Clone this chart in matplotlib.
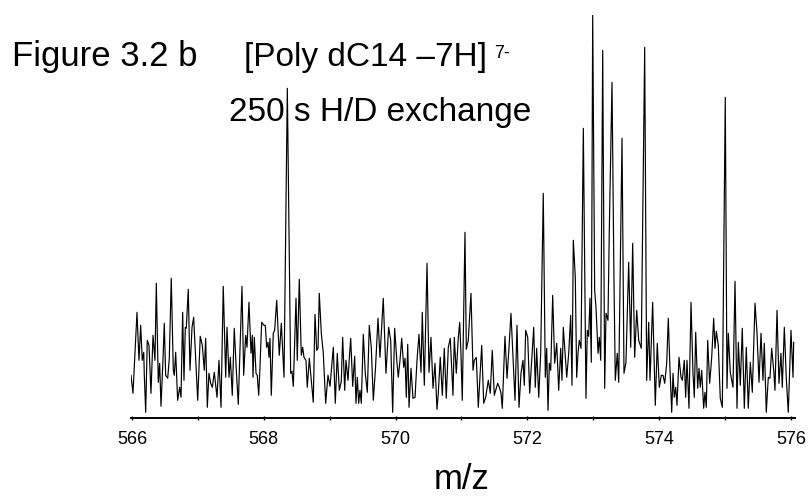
import matplotlib
matplotlib.use("Agg")
import matplotlib.pyplot as plt
from matplotlib.ticker import MultipleLocator, FuncFormatter

plt.rcParams['font.family'] = ['Liberation Sans', 'DejaVu Sans']

# --- spectrum (m/z, relative intensity) ---
mz = [
    565.985, 566.015, 566.076, 566.106, 566.132, 566.156, 566.178, 566.187, 566.208, 566.232,
    566.258, 566.288, 566.319, 566.349, 566.369, 566.399, 566.420, 566.440, 566.470, 566.490,
    566.511, 566.542, 566.566, 566.596, 566.627, 566.642, 566.663, 566.693, 566.724, 566.744,
    566.769, 566.789, 566.809, 566.824, 566.854, 566.880, 566.911, 566.936, 566.967, 566.997,
    567.036, 567.067, 567.097, 567.118, 567.143, 567.168, 567.194, 567.219, 567.249, 567.290,
    567.320, 567.351, 567.385, 567.422, 567.442, 567.472, 567.492, 567.522, 567.552, 567.583,
    567.613, 567.669, 567.695, 567.725, 567.745, 567.775, 567.806, 567.826, 567.836, 567.856,
    567.882, 567.901, 567.923, 567.942, 567.968, 568.003, 568.023, 568.044, 568.064, 568.079,
    568.094, 568.114, 568.144, 568.165, 568.196, 568.235, 568.266, 568.307, 568.357, 568.408,
    568.428, 568.448, 568.489, 568.508, 568.539, 568.569, 568.590, 568.610, 568.640, 568.660,
    568.691, 568.727, 568.751, 568.777, 568.803, 568.823, 568.842, 568.873, 568.903, 568.939,
    568.974, 569.005, 569.055, 569.085, 569.115, 569.146, 569.176, 569.197, 569.228, 569.247,
    569.278, 569.297, 569.319, 569.349, 569.379, 569.399, 569.419, 569.440, 569.460, 569.480,
    569.510, 569.540, 569.571, 569.601, 569.631, 569.662, 569.695, 569.733, 569.763, 569.813,
    569.854, 569.895, 569.926, 569.956, 569.986, 570.017, 570.041, 570.067, 570.093, 570.123,
    570.143, 570.163, 570.184, 570.204, 570.234, 570.264, 570.295, 570.325, 570.355, 570.386,
    570.405, 570.436, 570.477, 570.507, 570.537, 570.568, 570.598, 570.628, 570.648, 570.678,
    570.709, 570.739, 570.769, 570.800, 570.830, 570.851, 570.871, 570.891, 570.921, 570.952,
    570.973, 570.992, 571.012, 571.053, 571.073, 571.103, 571.144, 571.175, 571.194, 571.225,
    571.255, 571.307, 571.337, 571.367, 571.407, 571.437, 571.467, 571.498, 571.519, 571.549,
    571.580, 571.600, 571.619, 571.660, 571.691, 571.721, 571.751, 571.782, 571.812, 571.842,
    571.873, 571.903, 571.933, 571.953, 571.974, 572.005, 572.035, 572.065, 572.096, 572.120,
    572.141, 572.172, 572.202, 572.241, 572.272, 572.293, 572.313, 572.333, 572.354, 572.384,
    572.414, 572.445, 572.475, 572.506, 572.525, 572.545, 572.566, 572.597, 572.627, 572.657,
    572.677, 572.697, 572.727, 572.748, 572.768, 572.788, 572.814, 572.849, 572.889, 572.909,
    572.930, 572.950, 572.970, 572.991, 573.021, 573.041, 573.072, 573.091, 573.113, 573.143,
    573.173, 573.193, 573.223, 573.243, 573.284, 573.314, 573.334, 573.364, 573.386, 573.436,
    573.466, 573.496, 573.537, 573.568, 573.598, 573.628, 573.659, 573.689, 573.728, 573.780,
    573.810, 573.841, 573.861, 573.901, 573.941, 573.971, 574.002, 574.032, 574.058, 574.084,
    574.114, 574.138, 574.160, 574.190, 574.210, 574.229, 574.251, 574.270, 574.301, 574.331,
    574.351, 574.381, 574.402, 574.422, 574.452, 574.483, 574.513, 574.533, 574.554, 574.584,
    574.604, 574.624, 574.645, 574.675, 574.695, 574.715, 574.736, 574.766, 574.797, 574.827,
    574.847, 574.867, 574.897, 574.927, 574.958, 575.003, 575.029, 575.049, 575.079, 575.120,
    575.151, 575.181, 575.201, 575.231, 575.261, 575.292, 575.322, 575.352, 575.383, 575.413,
    575.454, 575.484, 575.515, 575.545, 575.575, 575.595, 575.625, 575.656, 575.681, 575.707,
    575.738, 575.757, 575.788, 575.818, 575.848, 575.868, 575.899, 575.929, 575.959, 576.000,
    576.031, 576.041,
]

intensity = [
    43, 25, 106, 58, 93, 58, 66, 43, 6, 78,
    73, 25, 83, 58, 135, 36, 55, 12, 58, 95,
    43, 40, 60, 140, 48, 43, 66, 18, 31, 21,
    106, 38, 91, 90, 129, 48, 91, 101, 58, 18,
    82, 73, 48, 80, 11, 45, 35, 31, 46, 21,
    58, 11, 132, 41, 91, 41, 61, 23, 90, 48,
    14, 132, 43, 83, 71, 116, 65, 83, 41, 81,
    45, 43, 23, 51, 96, 93, 93, 71, 76, 61,
    80, 23, 85, 88, 118, 63, 95, 41, 330, 45,
    47, 32, 120, 58, 139, 63, 71, 61, 58, 31,
    60, 34, 16, 104, 68, 70, 125, 85, 65, 15,
    43, 32, 71, 15, 65, 28, 37, 81, 28, 58,
    38, 59, 80, 32, 62, 15, 41, 15, 28, 15,
    84, 45, 26, 93, 71, 18, 50, 100, 61, 120,
    45, 91, 78, 6, 90, 59, 41, 58, 80, 51,
    60, 21, 74, 11, 50, 20, 21, 58, 84, 46,
    106, 33, 155, 46, 81, 30, 55, 9, 25, 61,
    23, 70, 20, 71, 80, 51, 23, 81, 45, 81,
    96, 65, 18, 186, 69, 78, 125, 48, 58, 61,
    11, 73, 15, 21, 38, 25, 68, 23, 28, 35,
    30, 25, 10, 82, 40, 71, 105, 60, 18, 93,
    11, 45, 58, 33, 88, 81, 25, 58, 91, 31,
    70, 21, 65, 225, 41, 70, 8, 55, 48, 123,
    55, 75, 28, 70, 38, 91, 71, 41, 65, 103,
    33, 178, 141, 41, 65, 78, 70, 290, 20, 88,
    82, 120, 56, 403, 128, 111, 65, 81, 58, 368,
    30, 105, 98, 188, 336, 138, 38, 65, 36, 280,
    45, 56, 156, 71, 175, 61, 108, 78, 70, 371,
    38, 96, 38, 116, 13, 75, 31, 43, 43, 35,
    55, 100, 56, 6, 45, 21, 31, 13, 61, 41,
    38, 58, 21, 58, 10, 116, 45, 21, 86, 30,
    50, 31, 48, 10, 26, 11, 78, 35, 61, 100,
    70, 87, 73, 20, 11, 321, 30, 85, 46, 31,
    137, 10, 76, 33, 90, 10, 71, 10, 56, 26,
    115, 86, 36, 85, 38, 75, 6, 41, 40, 70,
    48, 28, 108, 35, 65, 31, 91, 40, 6, 88,
    41, 76,
]

fig = plt.figure(figsize=(8.12, 4.99), dpi=100)
ax = fig.add_axes([131 / 812, 80.7 / 499, 664 / 812, 403.3 / 499])

ax.plot(mz, intensity, color='black', linewidth=0.85)

ax.set_xlim(565.985, 576.061)
ax.set_ylim(0, 403.3)

for side in ['top', 'right', 'left']:
    ax.spines[side].set_visible(False)
ax.spines['bottom'].set_linewidth(1.4)

ax.set_yticks([])
ax.xaxis.set_major_locator(MultipleLocator(2))
ax.xaxis.set_minor_locator(MultipleLocator(1))
ax.xaxis.set_major_formatter(FuncFormatter(lambda v, p: f"{v:.0f}"))
ax.tick_params(axis='x', which='both', direction='inout', length=3, width=1)
ax.tick_params(axis='x', which='major', labelsize=13, pad=8)

fig.text(12 / 812, 1 - 66 / 499, "Figure 3.2 b", fontsize=25, va='baseline', ha='left')
fig.text(244 / 812, 1 - 66 / 499, "[Poly dC14 \u20137H]", fontsize=24, va='baseline', ha='left')
fig.text(494 / 812, 1 - 58 / 499, "7-", fontsize=13, va='baseline', ha='left')
fig.text(229 / 812, 1 - 121 / 499, "250 s H/D exchange", fontsize=24, va='baseline', ha='left')
fig.text(462 / 812, 1 - 489 / 499, "m/z", fontsize=25, va='baseline', ha='center')

plt.savefig("out.png", dpi=100)
